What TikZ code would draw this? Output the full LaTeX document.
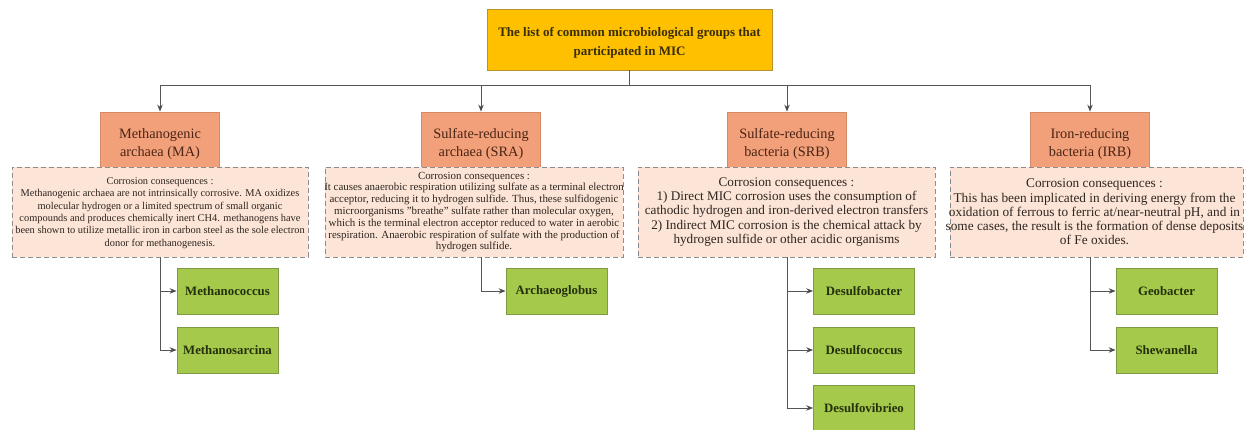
\documentclass[tikz,border=0pt]{standalone}
\usepackage{fontspec}
\setmainfont{Liberation Serif}
\usetikzlibrary{arrows.meta,calc}

\definecolor{goldfill}{HTML}{FFC000}
\definecolor{goldline}{HTML}{B8912A}
\definecolor{groupfill}{HTML}{F2A07A}
\definecolor{groupline}{HTML}{D48A66}
\definecolor{notefill}{HTML}{FCE4D6}
\definecolor{noteline}{HTML}{8C8C8C}
\definecolor{leaffill}{HTML}{A5C94B}
\definecolor{leafline}{HTML}{7F9A45}
\definecolor{wire}{HTML}{555555}
\definecolor{titleink}{HTML}{3A2E05}
\definecolor{groupink}{HTML}{4A2415}
\definecolor{noteink}{HTML}{2E2620}
\definecolor{leafink}{HTML}{24300C}

\tikzset{
  titlebox/.style={draw=goldline, fill=goldfill, line width=0.8pt, minimum width=285pt,
    minimum height=61pt, inner sep=0pt},
  titletext/.style={align=center, text=titleink, inner sep=0pt,
    font=\bfseries\fontsize{13}{19}\selectfont},
  groupbox/.style={draw=groupline, fill=groupfill, line width=0.8pt, minimum width=119pt,
    minimum height=64pt, align=center, text=groupink, inner sep=2pt,
    font=\fontsize{14.3}{18}\selectfont},
  notebox/.style={draw=noteline, fill=notefill, dashed, dash pattern=on 5pt off 3pt,
    line width=0.8pt, minimum height=90pt, inner sep=0pt},
  notetext/.style={align=center, text=noteink, inner sep=0pt},
  leafbox/.style={draw=leafline, fill=leaffill, line width=0.8pt, minimum width=101pt,
    minimum height=46pt, align=center, text=leafink, inner sep=2pt,
    font=\bfseries\fontsize{12.8}{16}\selectfont},
  wireline/.style={draw=wire, line width=0.8pt},
  arr/.style={wireline, -{Stealth[length=7pt,width=5.5pt,fill=black]}},
}

\begin{document}
\begin{tikzpicture}[x=1pt,y=-1pt]
\useasboundingbox[fill=white] (0,0) rectangle (1247,430);

% root
\node[titlebox] (top) at (629.5,39.5) {};
\node[titletext] (toptext) at ([yshift=-3pt]top.center)
  {The list of common microbiological groups that\\participated in MIC};

% groups
\node[groupbox] (ma)  at (160,144)  {Methanogenic\\archaea (MA)};
\node[groupbox] (sra) at (481,144)  {Sulfate-reducing\\archaea (SRA)};
\node[groupbox] (srb) at (787,144)  {Sulfate-reducing\\bacteria (SRB)};
\node[groupbox] (irb) at (1090,144) {Iron-reducing\\bacteria (IRB)};

% corrosion note frames
\node[notebox, minimum width=296pt] (madesc)  at (160,212) {};
\node[notebox, minimum width=298pt] (sradesc) at (474,212) {};
\node[notebox, minimum width=297pt] (srbdesc) at (786.5,212) {};
\node[notebox, minimum width=293pt] (irbdesc) at (1096.5,212) {};

% corrosion note texts
\node[notetext, font=\fontsize{10.4}{12.3}\selectfont] (matext) at ([yshift=-1pt]madesc.center)
  {Corrosion consequences :\\
   Methanogenic archaea are not intrinsically corrosive. MA oxidizes\\
   molecular hydrogen or a limited spectrum of small organic\\
   compounds and produces chemically inert CH4. methanogens have\\
   been shown to utilize metallic iron in carbon steel as the sole electron\\
   donor for methanogenesis.};
\node[notetext, font=\fontsize{10.9}{11.8}\selectfont] (sratext) at (sradesc.center)
  {Corrosion consequences :\\
   It causes anaerobic respiration utilizing sulfate as a terminal electron\\
   acceptor, reducing it to hydrogen sulfide. Thus, these sulfidogenic\\
   microorganisms "breathe" sulfate rather than molecular oxygen,\\
   which is the terminal electron acceptor reduced to water in aerobic\\
   respiration. Anaerobic respiration of sulfate with the production of\\
   hydrogen sulfide.};
\node[notetext, font=\fontsize{13.2}{14.2}\selectfont] (srbtext) at (srbdesc.center)
  {Corrosion consequences :\\
   1) Direct MIC corrosion uses the consumption of\\
   cathodic hydrogen and iron-derived electron transfers\\
   2) Indirect MIC corrosion is the chemical attack by\\
   hydrogen sulfide or other acidic organisms};
\node[notetext, font=\fontsize{13.3}{14.2}\selectfont] (irbtext) at ([xshift=-2pt]irbdesc.center)
  {Corrosion consequences :\\
   This has been implicated in deriving energy from the\\
   oxidation of ferrous to ferric at/near-neutral pH, and in\\
   some cases, the result is the formation of dense deposits\\
   of Fe oxides.};

% genera
\node[leafbox] (mc)  at (227.5,291)  {Methanococcus};
\node[leafbox] (ms)  at (227.5,350)  {Methanosarcina};
\node[leafbox] (ag)  at (556.5,291)  {Archaeoglobus};
\node[leafbox] (dfb) at (864,291)    {Desulfobacter};
\node[leafbox] (dfc) at (864,350)    {Desulfococcus};
\node[leafbox] (dfv) at (864,408)    {Desulfovibrieo};
\node[leafbox] (geo) at (1166.5,291) {Geobacter};
\node[leafbox] (she) at (1166.5,350) {Shewanella};

% root to groups
\coordinate (bus) at ($(top.south)+(0,15)$);
\draw[wireline] (top.south) -- (bus);
\foreach \g in {ma,sra,srb,irb}
  \draw[arr] (bus) -| (\g.north);

% notes to genera
\draw[arr] (ma |- madesc.south) |- (mc.west);
\draw[arr] (ma |- madesc.south) |- (ms.west);
\draw[arr] (sra |- sradesc.south) |- (ag.west);
\draw[arr] (srb |- srbdesc.south) |- (dfb.west);
\draw[arr] (srb |- srbdesc.south) |- (dfc.west);
\draw[arr] (srb |- srbdesc.south) |- (dfv.west);
\draw[arr] (irb |- irbdesc.south) |- (geo.west);
\draw[arr] (irb |- irbdesc.south) |- (she.west);
\end{tikzpicture}
\end{document}
